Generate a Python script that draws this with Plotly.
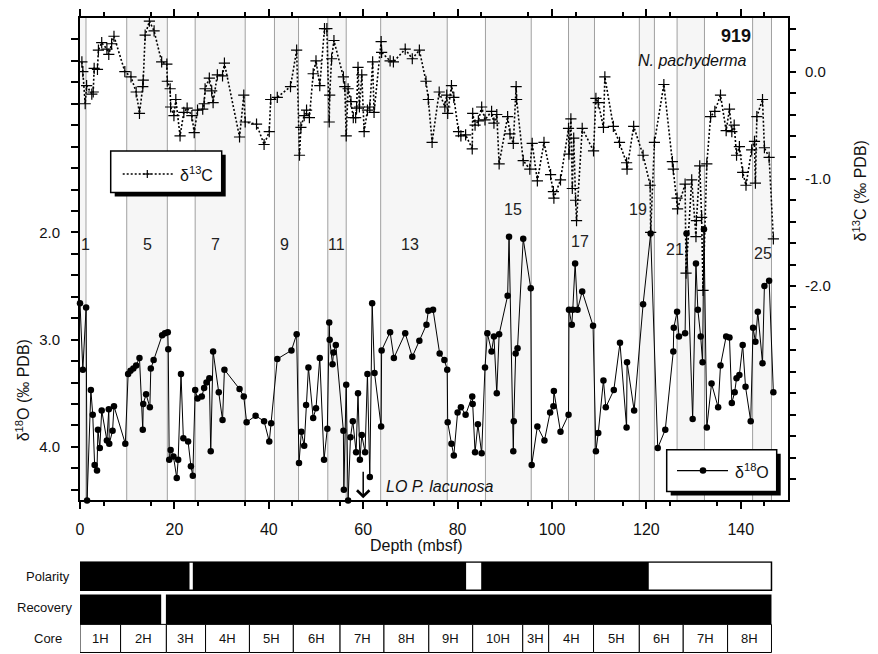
import plotly.graph_objects as go

# ---------------- data ----------------
d18O_depth = [0.0, 0.6, 1.3, 1.5, 2.3, 2.7, 3.1, 3.6, 3.8, 4.2, 4.6, 5.7, 6.1, 6.2, 6.9, 7.2, 9.6,
              10.2, 10.7, 11.3, 11.9, 12.6, 13.3, 13.4, 14.0, 14.8, 15.0, 15.6, 17.4, 18.0, 18.6, 18.7,
              18.9, 19.2, 19.8, 20.5, 20.8, 21.4, 21.9, 22.9, 23.5, 23.9, 24.4, 24.9, 25.8, 26.3, 26.8,
              27.4, 27.7, 28.2, 29.4, 30.2, 30.6, 33.8, 34.7, 35.3, 37.2, 39.0, 40.1, 40.5, 41.8, 44.8,
              45.9, 46.4, 46.9, 47.5, 47.9, 48.4, 49.4, 50.0, 50.8, 51.7, 52.4, 52.8, 52.9, 53.5, 53.7,
              54.2, 55.8, 55.9, 56.4, 56.8, 57.3, 57.8, 58.5, 58.9, 59.3, 59.7, 60.4, 60.9, 61.4, 61.9,
              62.4, 63.8, 63.9, 65.7, 66.5, 68.9, 70.4, 71.9, 73.4, 73.8, 74.8, 76.2, 77.2, 77.8, 77.9,
              78.7, 79.2, 80.0, 80.7, 81.7, 83.1, 83.2, 83.7, 84.3, 85.1, 85.8, 86.3, 87.2, 87.7, 88.3,
              88.8, 90.6, 90.9, 91.8, 91.9, 92.3, 92.7, 93.9, 95.5, 95.7, 96.9, 98.4, 99.6, 100.3, 100.4,
              101.8, 103.5, 103.6, 104.2, 104.4, 104.9, 105.4, 106.4, 108.7, 109.3, 109.8, 110.9, 111.4,
              113.1, 114.4, 115.8, 115.9, 117.4, 119.3, 120.9, 122.4, 124.0, 125.7, 125.8, 126.5, 126.9,
              128.2, 128.5, 129.8, 130.5, 130.9, 131.5, 131.9, 132.2, 132.8, 133.8, 135.2, 135.7, 136.9,
              137.6, 138.1, 138.7, 139.1, 139.7, 140.4, 141.0, 142.1, 142.6, 143.1, 143.6, 144.6, 145.0,
              146.0, 146.9]
d18O_value = [2.66, 3.28, 2.70, 4.50, 3.47, 3.70, 4.17, 4.22, 3.84, 4.01, 3.66, 3.94, 3.65, 3.97, 3.85, 3.62, 3.97,
              3.32, 3.29, 3.27, 3.24, 3.17, 3.84, 3.60, 3.51, 3.63, 3.27, 3.19, 2.96, 2.94, 2.93, 3.09,
              4.12, 4.03, 4.09, 4.29, 4.12, 3.32, 3.92, 3.95, 4.18, 4.27, 3.47, 3.55, 3.53, 3.45, 3.40,
              3.36, 4.04, 3.11, 3.49, 3.75, 3.28, 3.46, 3.53, 3.77, 3.71, 3.76, 3.95, 3.78, 3.18, 3.10,
              2.95, 4.15, 3.86, 3.99, 3.61, 3.26, 3.73, 3.64, 3.17, 4.12, 3.83, 2.84, 3.00, 3.23, 3.12,
              3.05, 3.85, 4.40, 3.42, 4.50, 3.91, 3.76, 4.05, 3.50, 4.12, 3.89, 4.05, 3.32, 4.28, 2.66,
              3.31, 3.81, 3.10, 2.93, 3.17, 2.94, 3.16, 3.01, 2.86, 2.73, 2.72, 3.13, 3.19, 3.28, 3.77,
              3.97, 4.08, 3.68, 3.63, 3.70, 3.53, 3.60, 4.05, 3.79, 4.06, 3.26, 2.94, 3.11, 2.97, 3.50,
              2.95, 2.59, 2.04, 4.04, 3.76, 3.13, 3.08, 2.06, 2.52, 4.17, 3.81, 3.94, 3.68, 3.62, 3.48,
              3.86, 3.70, 2.72, 2.86, 2.72, 2.29, 2.72, 2.55, 2.87, 4.04, 3.87, 3.38, 3.63,
              3.47, 3.03, 3.82, 3.21, 3.66, 2.67, 2.01, 4.01, 3.84, 3.11, 2.89, 2.74, 2.97,
              2.94, 2.01, 3.74, 2.29, 2.72, 2.97, 3.21, 1.97, 3.82, 3.41, 3.63, 3.24, 2.97,
              2.98, 3.59, 3.49, 3.36, 3.33, 3.05, 3.44, 3.76, 2.89, 3.02, 2.74, 3.22, 2.50,
              2.45, 3.49]

d13C_depth = [0.4, 0.6, 1.1, 1.4, 2.5, 2.8, 3.0, 3.7, 3.9, 4.6, 5.7, 6.1, 6.7, 7.2, 9.5, 10.8, 11.9,
              12.6, 13.3, 13.4, 13.8, 14.7, 15.7, 17.3, 18.4, 18.5, 19.1, 19.2, 19.9, 20.3, 21.2, 22.0,
              22.7, 23.7, 24.2, 24.9, 26.0, 26.3, 26.5, 27.4, 27.9, 28.2, 29.1, 30.2, 30.6, 33.8, 34.7,
              35.0, 37.4, 39.0, 40.1, 40.4, 41.8, 44.6, 45.9, 46.5, 46.8, 47.5, 48.0, 48.6, 49.4, 50.0,
              50.8, 51.8, 52.3, 52.8, 52.9, 53.3, 53.8, 55.8, 56.1, 56.4, 56.8, 57.4, 57.9, 58.4, 58.6,
              58.9, 59.2, 59.7, 60.2, 60.9, 61.4, 62.0, 62.3, 63.8, 63.9, 65.7, 66.4, 68.9, 70.4, 71.9,
              73.3, 73.8, 74.6, 76.1, 77.3, 77.7, 77.9, 78.7, 79.2, 80.2, 80.7, 81.7, 83.1, 83.2, 83.7,
              84.4, 85.1, 85.8, 87.2, 87.7, 88.3, 88.8, 90.6, 91.1, 91.8, 92.4, 92.5, 93.9, 95.3, 95.8,
              96.9, 98.3, 99.7, 100.3, 100.4, 101.8, 103.5, 103.6, 104.0, 104.3, 104.6, 105.0, 105.2,
              106.4, 108.8, 109.3, 109.8, 110.9, 111.2, 113.0, 114.3, 115.8, 115.9, 117.3, 119.3, 120.8,
              120.9, 121.7, 123.7, 125.5, 125.7, 126.5, 126.6, 128.2, 128.4, 129.6, 130.5, 130.6, 131.3,
              131.7, 132.0, 132.8, 133.6, 134.5, 135.7, 136.9, 137.6, 138.1, 138.6, 139.1, 139.7, 140.4,
              141.1, 142.3, 142.9, 143.1, 143.4, 144.6, 145.0, 146.0, 146.9]
d13C_value = [0.09, 0.00, -0.30, -0.13, -0.21, -0.19, 0.03, 0.02, 0.20, 0.27, 0.21, 0.16, 0.26, 0.33, 0.00, -0.05, -0.19,
              -0.39, -0.14, -0.08, 0.34, 0.47, 0.38, 0.09, 0.07, -0.09, -0.16, -0.33, -0.41, -0.26, -0.60, -0.38,
              -0.34, -0.41, -0.57, -0.36, -0.35, -0.30, -0.16, -0.06, -0.18, -0.29, -0.03, -0.04, 0.08, -0.61, -0.22,
              -0.47, -0.49, -0.68, -0.56, -0.26, -0.24, -0.14, 0.20, -0.78, -0.52, -0.41, -0.36, -0.43, -0.02, 0.10,
              -0.13, 0.40, 0.40, -0.47, -0.22, 0.12, 0.29, -0.05, -0.14, -0.60, -0.16, -0.28, -0.43, -0.43, -0.34,
              0.04, -0.33, -0.03, -0.56, -0.36, -0.33, 0.09, -0.38, 0.28, 0.18, 0.10, 0.09, 0.21, 0.12, 0.20,
              -0.09, -0.26, -0.66, -0.19, -0.33, -0.22, -0.39, -0.13, -0.24, -0.56, -0.60, -0.59, -0.72, -0.39, -0.50,
              -0.46, -0.33, -0.45, -0.37, -0.48, -0.40, -0.86, -0.42, -0.58, -0.67, -0.14, -0.26, -0.83, -0.91, -0.67,
              -1.02, -0.66, -0.96, -1.12, -1.18, -1.01, -0.53, -0.77, -0.44, -1.09, -0.62, -1.20, -1.39,
              -0.53, -0.74, -0.25, -0.29, -0.52, -0.05, -0.51, -0.66, -0.85, -0.91, -0.51, -0.78, -1.06,
              -1.50, -0.66, -0.12, -0.84, -0.91, -1.18, -1.28, -1.05, -1.88, -1.01, -1.54, -1.39, -0.88,
              -1.36, -2.04, -0.86, -0.42, -0.37, -0.22, -0.55, -0.35, -0.56, -0.50, -0.78, -0.70, -0.94,
              -1.06, -0.73, -0.65, -1.04, -0.42, -0.26, -0.71, -0.80, -1.56]

# marine isotope stages (interglacial bands, depth mbsf)
stage_bands = [(0.0, 1.27), (9.9, 18.5), (24.4, 35.0), (41.2, 46.3), (52.5, 56.4), (63.7, 77.8),
               (85.9, 95.6), (103.5, 109.0), (118.5, 121.7), (126.5, 132.3), (142.5, 146.5)]
stage_labels = ["1", "5", "7", "9", "11", "13", "15", "17", "19", "21", "25"]
stage_label_x = [1.1, 14.2, 28.8, 43.4, 54.4, 69.9, 91.7, 105.9, 118.3, 126.1, 144.8]
stage_label_y = [2.11, 2.11, 2.11, 2.11, 2.11, 2.11, 1.79, 2.08, 1.79, 2.16, 2.20]

# polarity (normal intervals), recovery (recovered intervals), cores
polarity_normal = [(0.0, 23.2), (23.9, 81.8), (85.0, 120.5)]
recovery_intervals = [(0.0, 17.2), (18.2, 146.5)]
core_bounds = [0, 8.6, 18.3, 26.6, 35.9, 45.2, 55.1, 64.4, 73.9, 83.2, 93.8, 99.3, 108.8,
               118.5, 127.8, 137.2, 146.5]
core_labels = ["1H", "2H", "3H", "4H", "5H", "6H", "7H", "8H", "9H", "10H", "3H", "4H",
               "5H", "6H", "7H", "8H"]
record_end = 146.5
lo_lacunosa_depth = 60.0

x_labeled = list(range(0, 141, 20))          # labelled long ticks
x_long_unlabeled = list(range(10, 151, 20))  # long ticks without label
x_short = list(range(5, 150, 10))            # short ticks
y1_major = [2.0, 3.0, 4.0]
y1_minor = [round(0.2 * i, 1) for i in range(1, 23)]
y2_major = [0.0, -1.0, -2.0]
y2_minor = [round(-3.8 + 0.2 * i, 1) for i in range(0, 22)]

# ---------------- figure ----------------
FONT = "Liberation Sans, Arial, Helvetica, sans-serif"
OFF = 8                      # page body margin
W, H = 870, 646
ML, MR, MT, MB = 72, 90, 8, 1


def PX(px):                  # screenshot x -> paper x
    return (px - OFF - ML) / (W - ML - MR)


def PY(py):                  # screenshot y -> paper y
    return (H - MB - (py - OFF)) / (H - MT - MB)


main_bottom = PY(500)

fig = go.Figure()
fig.add_trace(go.Scatter(
    x=d18O_depth, y=d18O_value, xaxis="x", yaxis="y", mode="lines+markers",
    line=dict(color="black", width=1), marker=dict(symbol="circle", size=6.5, color="black"),
    cliponaxis=False, showlegend=False, name="δ18O"))
fig.add_trace(go.Scatter(
    x=d13C_depth, y=d13C_value, xaxis="x", yaxis="y2", mode="lines+markers",
    line=dict(color="black", width=1.6, dash="2px,2px"),
    marker=dict(symbol="cross-thin", size=8, line=dict(color="black", width=1.2)),
    showlegend=False, name="δ13C"))

shapes = []
for a, b in stage_bands:
    shapes.append(dict(type="rect", xref="x", yref="y domain", x0=a, x1=b, y0=0, y1=1,
                       fillcolor="#f6f6f6", line=dict(width=0), layer="below"))
edges = sorted(set([e for band in stage_bands for e in band]) - {0.0})
for e in edges:
    shapes.append(dict(type="line", xref="x", yref="y domain", x0=e, x1=e, y0=0, y1=1,
                       line=dict(color="#a0a0a0", width=1), layer="below"))


def legend_box(x0, y0, x1, y1):
    shapes.append(dict(type="rect", xref="paper", yref="paper", x0=PX(x0 + 4), x1=PX(x1 + 4),
                       y0=PY(y1 + 4), y1=PY(y0 + 4), fillcolor="black", line=dict(width=0)))
    shapes.append(dict(type="rect", xref="paper", yref="paper", x0=PX(x0), x1=PX(x1),
                       y0=PY(y1), y1=PY(y0), fillcolor="white", line=dict(color="black", width=1.5)))


legend_box(110.7, 149.3, 221.7, 191)
shapes.append(dict(type="line", xref="paper", yref="paper", x0=PX(122.7), x1=PX(173.3),
                   y0=PY(172.5), y1=PY(172.5), line=dict(color="black", width=1.6, dash="2px,2px")))
shapes.append(dict(type="line", xref="paper", yref="paper", x0=PX(143.3), x1=PX(151.3),
                   y0=PY(172.5), y1=PY(172.5), line=dict(color="black", width=1.2)))
shapes.append(dict(type="line", xref="paper", yref="paper", x0=PX(147.3), x1=PX(147.3),
                   y0=PY(168.5), y1=PY(176.5), line=dict(color="black", width=1.2)))

legend_box(666.7, 449, 776.7, 491)
shapes.append(dict(type="line", xref="paper", yref="paper", x0=PX(677), x1=PX(728),
                   y0=PY(470), y1=PY(470), line=dict(color="black", width=1.2)))
shapes.append(dict(type="circle", xref="paper", yref="paper", x0=PX(699.7), x1=PX(706.3),
                   y0=PY(473.3), y1=PY(466.7), fillcolor="black", line=dict(color="black", width=0)))

# bottom strips (x2 / y3 subplot, y3 in pixel-like units measured up from the bottom)
POL = (63.0, 91.3)
REC = (28.7, 58.7)
COR = (0.5, 28.7)
shapes.append(dict(type="rect", xref="x2", yref="y3", x0=0, x1=record_end, y0=POL[0], y1=POL[1],
                   fillcolor="white", line=dict(color="black", width=1.5)))
for a, b in polarity_normal:
    shapes.append(dict(type="rect", xref="x2", yref="y3", x0=a, x1=b, y0=POL[0], y1=POL[1],
                       fillcolor="black", line=dict(width=0)))
for a, b in recovery_intervals:
    shapes.append(dict(type="rect", xref="x2", yref="y3", x0=a, x1=b, y0=REC[0], y1=REC[1],
                       fillcolor="black", line=dict(width=0)))
for i in range(len(core_labels)):
    shapes.append(dict(type="rect", xref="x2", yref="y3", x0=core_bounds[i], x1=core_bounds[i + 1],
                       y0=COR[0], y1=COR[1], fillcolor="white", line=dict(color="black", width=1)))

ann = []
TXT = "#111111"


def label(px, py, text, size=16, anchor="center", angle=0):
    ann.append(dict(x=PX(px), y=PY(py), xref="paper", yref="paper", text=text, showarrow=False,
                    xanchor=anchor, yanchor="middle", textangle=angle,
                    font=dict(family=FONT, size=size, color=TXT)))


for lab, xv, yv in zip(stage_labels, stage_label_x, stage_label_y):
    ann.append(dict(x=xv, y=yv, xref="x", yref="y", text=lab, showarrow=False,
                    xanchor="center", yanchor="middle",
                    font=dict(family=FONT, size=16, color="#222222")))
for i, lab in enumerate(core_labels):
    ann.append(dict(x=(core_bounds[i] + core_bounds[i + 1]) / 2, y=(COR[0] + COR[1]) / 2,
                    xref="x2", yref="y3", text=lab, showarrow=False,
                    xanchor="center", yanchor="middle",
                    font=dict(family=FONT, size=13, color=TXT)))

label(48, 576, "Polarity", 13)
label(44.5, 607.5, "Recovery", 13)
label(47.7, 638.5, "Core", 13)
label(735.5, 34, "<b>919</b>", 18)
label(692.5, 59, "<i>N. pachyderma</i>", 16)
label(384, 486, "<i>LO P. lacunosa</i>", 16, anchor="left")
label(416, 545, "Depth (mbsf)", 16)
label(22.5, 390, "δ<sup>18</sup>O (‰ PDB)", 16, angle=-90)
label(860, 190, "δ<sup>13</sup>C (‰ PDB)", 16, angle=-90)
label(178, 172, "δ<sup>13</sup>C", 16, anchor="left")
label(733, 470, "δ<sup>18</sup>O", 16, anchor="left")

ann.append(dict(x=lo_lacunosa_depth, y=4.48, xref="x", yref="y", text="", showarrow=True,
                ax=0, ay=-28, arrowhead=4, arrowsize=1.6, arrowwidth=1.5, arrowcolor="black"))

axis_common = dict(showgrid=False, zeroline=False, linecolor="black", linewidth=2,
                   ticks="outside", tickcolor="black", tickwidth=2, tickmode="array")

fig.update_layout(
    width=W, height=H, margin=dict(l=ML, r=MR, t=MT, b=MB),
    paper_bgcolor="white", plot_bgcolor="rgba(0,0,0,0)",
    font=dict(family=FONT, color=TXT),
    xaxis=dict(domain=[0, 1], anchor="y", range=[0, 150], tickvals=x_labeled,
               ticktext=[str(v) for v in x_labeled], showline=True,
               ticklen=7, mirror="ticks", tickfont=dict(size=16), ticklabelstandoff=6,
               minor=dict(tickvals=x_short, ticklen=4, tickwidth=2,
                          tickcolor="black", ticks="outside"),
               **axis_common),
    xaxis3=dict(overlaying="x", anchor="y", side="bottom", range=[0, 150],
                tickvals=x_long_unlabeled, showticklabels=False, showline=False,
                ticklen=7, mirror="ticks", **axis_common),
    yaxis=dict(domain=[main_bottom, 1], anchor="x", range=[4.5, 0], tickvals=y1_major,
               ticktext=[f"{v:.1f}" for v in y1_major], ticklen=7, tickfont=dict(size=15),
               ticklabelstandoff=8, showline=True,
               minor=dict(tickvals=y1_minor, ticklen=7, tickwidth=2, tickcolor="black",
                          ticks="outside"),
               **axis_common),
    yaxis2=dict(overlaying="y", side="right", anchor="x", range=[-4.0, 0.5], tickvals=y2_major,
                ticktext=[f"{v:.1f}" for v in y2_major], ticklen=6, tickfont=dict(size=15),
                ticklabelstandoff=6, showline=True,
                minor=dict(tickvals=y2_minor, ticklen=6, tickwidth=2, tickcolor="black",
                           ticks="outside"),
                **axis_common),
    xaxis2=dict(domain=[0, 1], anchor="y3", range=[0, 150], visible=False),
    yaxis3=dict(domain=[0, PY(561)], anchor="x2", range=[0, 92], visible=False),
    shapes=shapes, annotations=ann,
)

fig.write_html("out.html")
